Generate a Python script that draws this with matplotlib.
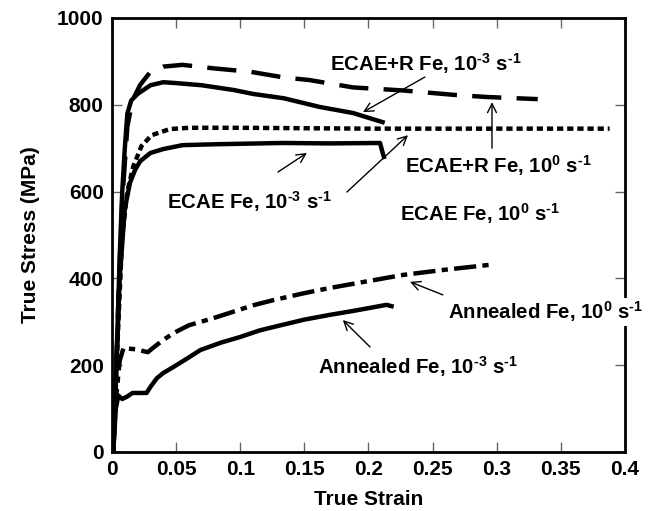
import matplotlib
matplotlib.use("Agg")
import matplotlib.pyplot as plt

plt.rcParams["font.family"] = ["Liberation Sans", "DejaVu Sans"]
plt.rcParams["font.weight"] = "bold"
plt.rcParams["mathtext.fontset"] = "custom"
plt.rcParams["mathtext.rm"] = "Liberation Sans:bold"
plt.rcParams["mathtext.it"] = "Liberation Sans:bold"
plt.rcParams["mathtext.bf"] = "Liberation Sans:bold"
plt.rcParams["mathtext.default"] = "rm"
plt.rcParams["lines.scale_dashes"] = False

# ECAE+R Fe, 10^-3 s^-1 (solid)
ecaer_slow_x = [0.001, 0.004, 0.006, 0.008, 0.010, 0.012, 0.015, 0.020, 0.030, 0.040,
                0.050, 0.070, 0.095, 0.110, 0.134, 0.162, 0.188, 0.211]
ecaer_slow_y = [0, 250, 450, 600, 700, 780, 810, 825, 845, 852,
                850, 845, 834, 825, 815, 795, 781, 760]

# ECAE+R Fe, 10^0 s^-1 (long dash)
ecaer_fast_x = [0.001, 0.005, 0.008, 0.012, 0.016, 0.022, 0.030, 0.040, 0.055, 0.079,
                0.108, 0.134, 0.154, 0.188, 0.227, 0.266, 0.292, 0.332]
ecaer_fast_y = [0, 350, 580, 750, 810, 846, 876, 888, 892, 884,
                876, 863, 857, 840, 833, 823, 818, 813]

# ECAE Fe, 10^0 s^-1 (short dash)
ecae_fast_x = [0.001, 0.005, 0.008, 0.012, 0.0165, 0.023, 0.031, 0.045, 0.060, 0.100,
               0.150, 0.200, 0.250, 0.300, 0.350, 0.388]
ecae_fast_y = [0, 300, 500, 600, 657, 705, 730, 744, 747, 747,
               746, 745, 745, 745, 745, 745]

# ECAE Fe, 10^-3 s^-1 (solid)
ecae_slow_x = [0.001, 0.006, 0.010, 0.014, 0.018, 0.022, 0.030, 0.040, 0.055, 0.080,
               0.133, 0.170, 0.209, 0.211, 0.212]
ecae_slow_y = [0, 400, 560, 620, 650, 670, 689, 698, 707, 709,
               712, 711, 712, 690, 680]

# Annealed Fe, 10^0 s^-1 (dash-dot)
ann_fast_x = [0.001, 0.003, 0.006, 0.009, 0.014, 0.020, 0.025, 0.028, 0.032, 0.040,
              0.048, 0.060, 0.074, 0.084, 0.110, 0.126, 0.150, 0.170, 0.227, 0.260, 0.297]
ann_fast_y = [0, 120, 210, 240, 238, 236, 232, 230, 240, 258,
              274, 292, 304, 313, 338, 350, 366, 378, 408, 420, 432]

# Annealed Fe, 10^-3 s^-1 (solid)
ann_slow_x = [0.001, 0.003, 0.005, 0.008, 0.012, 0.016, 0.027, 0.030, 0.035, 0.040,
              0.048, 0.060, 0.069, 0.085, 0.100, 0.115, 0.133, 0.150, 0.170, 0.190,
              0.214, 0.218]
ann_slow_y = [0, 100, 130, 122, 128, 136, 136, 150, 170, 182,
              196, 218, 235, 252, 265, 280, 293, 305, 316, 326,
              339, 336]

x_ticks = [0, 0.05, 0.1, 0.15, 0.2, 0.25, 0.3, 0.35, 0.4]
x_tick_labels = ["0", "0.05", "0.1", "0.15", "0.2", "0.25", "0.3", "0.35", "0.4"]
y_ticks = [0, 200, 400, 600, 800, 1000]

fig = plt.figure(figsize=(6.56, 5.11), dpi=100)
ax = fig.add_axes([0.1707, 0.1155, 0.782, 0.8493])

lw = 3.2
ax.plot(ecaer_slow_x, ecaer_slow_y, color="k", lw=lw)
ax.plot(ecaer_fast_x, ecaer_fast_y, color="k", lw=lw, dashes=(21, 11))
ax.plot(ecae_fast_x, ecae_fast_y, color="k", lw=lw, dashes=(4.5, 2.8))
ax.plot(ecae_slow_x, ecae_slow_y, color="k", lw=lw)
ax.plot(ann_fast_x, ann_fast_y, color="k", lw=lw, dashes=(16, 4.5, 4.5, 4.5))
ax.plot(ann_slow_x, ann_slow_y, color="k", lw=lw)

# labels: (text, text pos, arrow tail, arrow tip, white box)
labels = [
    (r"ECAE+R Fe, 10$^{\text{-}3}$ s$^{\text{-}1}$", (0.170, 878), (0.244, 864), (0.1957, 783), False),
    (r"ECAE+R Fe, 10$^{0}$ s$^{\text{-}1}$", (0.2285, 643), (0.2963, 700), (0.2963, 806), False),
    (r"ECAE Fe, 10$^{\text{-}3}$ s$^{\text{-}1}$", (0.0429, 560), (0.1294, 645), (0.152, 689), False),
    (r"ECAE Fe, 10$^{0}$ s$^{\text{-}1}$", (0.2246, 532), (0.1832, 599), (0.2308, 730), False),
    (r"Annealed Fe, 10$^{0}$ s$^{\text{-}1}$", (0.262, 306), (0.258, 362), (0.2324, 392), True),
    (r"Annealed Fe, 10$^{\text{-}3}$ s$^{\text{-}1}$", (0.1606, 180), (0.2012, 242), (0.180, 304), False),
]
for txt, pos, tail, tip, boxed in labels:
    ax.annotate("", xy=tip, xytext=tail,
                arrowprops=dict(arrowstyle="->", lw=1, color="k",
                                shrinkA=0, shrinkB=0, mutation_scale=16))
    box = dict(facecolor="white", edgecolor="none", pad=1) if boxed else None
    ax.text(pos[0], pos[1], txt, fontsize=14.7, fontweight="bold",
            ha="left", va="baseline", zorder=5, clip_on=False, bbox=box)

ax.set_xlim(0, 0.4)
ax.set_ylim(0, 1000)
ax.set_xticks(x_ticks)
ax.set_xticklabels(x_tick_labels)
ax.set_yticks(y_ticks)
ax.tick_params(direction="in", length=7, width=1, color="0.4",
               top=True, right=True, labelsize=15, pad=6)
for lab in ax.get_xticklabels() + ax.get_yticklabels():
    lab.set_fontweight("bold")
for s in ax.spines.values():
    s.set_linewidth(2)

ax.set_xlabel("True Strain", fontsize=15, fontweight="bold", labelpad=8)
ax.set_ylabel("True Stress (MPa)", fontsize=15, fontweight="bold", labelpad=12)

fig.savefig("out.png", dpi=100)
